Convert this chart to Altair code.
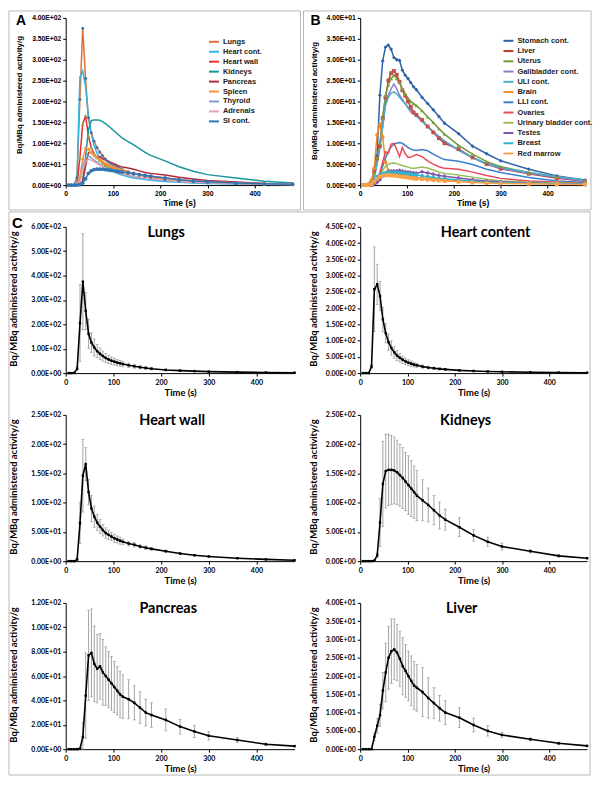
import altair as alt
import pandas as pd

# ---------------- data ----------------
T = [6, 12, 18, 24, 30, 36, 42, 48, 54, 60, 66, 72, 78, 84, 90, 96, 102, 108, 114, 120,
     132, 144, 156, 168, 180, 210, 240, 270, 300, 360, 420, 480]
X_TICKS = [0, 100, 200, 300, 400]
Y_TITLE = "Bq/MBq administered activity/g"

lungs = [0, 0, 1, 18, 205, 375, 255, 161, 125, 105, 90, 79, 70, 62, 56, 51, 47, 43, 40, 37,
         32, 28, 24, 21, 18, 13, 10, 8, 6, 4, 2.5, 1.5]
lungs_sd = [0, 0, 0, 8, 158, 197, 76, 60, 40, 35, 27, 24, 21, 19, 17, 15, 14, 13, 12, 11,
            9, 8, 7, 6, 5, 4, 3, 2, 2, 1, 0.5, 0.3]
heart_cont = [0, 0, 0, 20, 258, 273, 237, 165, 123, 95, 77, 64, 54, 47, 41, 36, 32, 29, 26, 24,
              20, 17, 15, 13, 11.5, 8.5, 6.5, 5, 4, 2.6, 1.7, 1.1]
heart_cont_sd = [0, 0, 0, 5, 130, 62, 45, 38, 30, 25, 22, 18, 15, 13, 11, 10, 9, 8, 7, 6,
                 5, 4, 3.5, 3, 2.5, 2, 1.5, 1, 1, 0.5, 0.3, 0.2]
heart_wall = [0, 0, 0, 3, 65, 146, 166, 118, 90, 76, 66, 59, 53, 48, 45, 42, 39, 37, 35, 33,
              30, 28, 25, 23, 21, 17, 13, 10, 8, 5, 3, 1.5]
heart_wall_sd = [0, 0, 0, 2, 35, 62, 28, 22, 22, 18, 14, 12, 10, 9, 8, 7, 7, 6, 6, 5,
                 4, 4, 3, 3, 2.5, 2, 1.5, 1, 1, 0.5, 0.3, 0.2]
kidneys = [0, 0, 0, 0, 1, 10, 66, 132, 154, 156, 156, 155, 152, 147, 142, 136, 130, 124, 118, 112,
           104, 96, 87, 78, 71, 58, 44, 33, 25, 17, 9, 5]
kidneys_sd = [0, 0, 0, 0, 0.5, 4, 41, 73, 63, 61, 59, 57, 55, 53, 52, 50, 50, 48, 45, 43,
              35, 29, 25, 23, 18, 16, 10, 8, 6, 3, 2, 1]
pancreas = [0, 0, 0, 0, 0.5, 10, 44, 77, 79, 70, 66, 68, 63, 60, 57, 54, 51, 48, 45, 43,
            41, 38, 34, 30, 28, 24, 18.5, 14.5, 11, 7.5, 4, 2.5]
pancreas_sd = [0, 0, 0, 0, 0.3, 12, 35, 37, 36, 31, 28, 27, 27, 24, 23, 22, 21, 20, 19, 18,
               16, 14, 13, 11, 10, 9, 6, 5, 3.5, 2, 1, 0.5]
liver = [0, 0, 0, 0, 3.4, 6.4, 9.3, 16, 21, 25, 26.8, 27.3, 26.4, 24.7, 22.7, 21.4, 20, 18.7, 17.4, 16.8,
         15.6, 14, 12.6, 11.2, 10, 8.6, 6.6, 5, 3.9, 2.7, 1.6, 0.9]
liver_sd = [0, 0, 0, 0, 1, 2, 3, 5, 8, 8.6, 8.8, 8.3, 7.7, 7.6, 7.8, 7.2, 6.8, 6.8, 6.6, 6.4,
            6.7, 5.5, 4.2, 3.5, 3.3, 2.7, 1.9, 1.4, 0.7, 0.4, 0.3, 0.2]

spleen = [0, 0, 0, 2, 20, 62, 88, 85, 78, 72, 66, 61, 56, 52, 48, 45, 42, 39, 37, 35,
          31, 28, 25, 22, 20, 16, 13, 10, 8, 5, 3.5, 2.5]
thyroid = [0, 0, 0, 1, 10, 45, 65, 70, 66, 60, 55, 50, 46, 42, 38, 35, 32, 30, 28, 26,
           23, 20, 18, 16, 14, 11, 8, 6, 5, 3, 2, 1.5]
adrenals = [0, 0, 0, 1, 8, 35, 55, 62, 60, 56, 52, 48, 44, 41, 38, 35, 33, 31, 29, 27,
            24, 21, 19, 17, 15, 12, 9, 7, 6, 4, 3, 2]
si_cont = [0, 0, 0, 0, 1, 5, 15, 28, 34, 37, 38, 38, 38, 37, 36, 35, 34, 33, 32, 31,
           29, 27, 25, 23, 21, 17, 13, 10, 8, 5, 3, 2]

stomach = [0, 0, 0.3, 1, 3, 7, 21.5, 29.7, 33, 33.5, 32.5, 30.5, 30, 29.8, 27.5, 26.3, 25.5, 24.5, 23.5, 22.8,
           21, 19.5, 18, 16.4, 14.8, 12.3, 9.3, 7.5, 5.8, 3.8, 2.2, 1.2]
uterus = [0, 0, 0, 0.5, 3, 6.5, 10, 16, 21.5, 24, 25.5, 26.3, 25.5, 24.5, 23, 21.8, 20.8, 20, 19.5, 19,
          17.8, 16.3, 15, 13.5, 12.2, 9.5, 7.4, 5.6, 4.4, 3, 2, 1.1]
gallbladder = [0, 0, 0, 0, 2, 5, 9, 14, 19.5, 21.5, 23, 24.2, 23, 21.5, 20.5, 19.5, 18.5, 17.5, 17, 16.5,
               15.3, 14, 12.8, 11.6, 10.5, 8.3, 6.5, 5, 4, 2.8, 1.8, 1]
uli_cont = [0, 0, 0, 0, 2, 5, 9, 14, 19, 21, 22, 22.3, 21.8, 21, 20.2, 19.5, 18.7, 18, 17.2, 16.6,
            15.3, 14, 12.8, 11.6, 10.5, 8.4, 6.6, 5.2, 4.2, 3, 2, 1.2]
brain = [0, 0, 0.3, 1.2, 4, 12, 14.5, 11.5, 5.5, 3.5, 3, 2.8, 2.6, 2.4, 2.3, 2.2, 2.1, 2, 1.9, 1.8,
         1.7, 1.6, 1.5, 1.4, 1.3, 1.1, 1, 0.8, 0.7, 0.6, 0.5, 0.4]
lli_cont = [0, 0, 0, 0, 0.3, 1, 2.5, 4.5, 6.5, 8, 9.2, 9.8, 10, 10.2, 10, 9.5, 9, 8.6, 8.4, 8.3,
            8.5, 8.2, 7.4, 6.7, 6.1, 5.7, 4.9, 3.8, 3.0, 1.8, 1, 0.6]
ovaries = [0, 0, 0, 0, 0.2, 1, 3, 5.5, 8, 7.6, 9.8, 10, 8.5, 6.8, 9, 7.5, 6.6, 6.7, 7, 7.3,
           6.8, 5.8, 5, 4.4, 4, 3.8, 3.1, 2.3, 1.6, 1, 0.7, 0.4]
urinary = [0, 0, 0, 0, 0.2, 0.8, 2, 3.5, 4.5, 5, 5.2, 5.3, 5.1, 4.9, 4.7, 4.5, 4.3, 4.1, 4, 4.1,
           4.3, 4.1, 3.6, 3.1, 2.8, 2.4, 1.9, 1.4, 1, 0.7, 0.5, 0.3]
testes = [0, 0, 0, 0, 0.2, 0.6, 1.3, 2.2, 2.8, 3.1, 3.3, 3.4, 3.4, 3.5, 3.3, 3.2, 3.1, 3, 2.9, 2.8,
          3.2, 2.9, 2.6, 2.3, 2.1, 1.7, 1.3, 1, 0.8, 0.5, 0.3, 0.2]
breast = [0, 0, 0, 0.3, 1, 2, 2.5, 2.8, 2.9, 3, 3, 3, 3, 2.9, 2.9, 2.8, 2.7, 2.6, 2.5, 2.4,
          2.2, 2, 1.8, 1.6, 1.5, 1.2, 0.9, 0.7, 0.6, 0.4, 0.3, 0.2]
red_marrow = [0, 0, 0, 0.2, 0.8, 1.5, 2, 2.2, 2.3, 2.4, 2.3, 2.3, 2.2, 2.1, 2, 1.9, 1.8, 1.7, 1.6, 1.5,
              1.4, 1.3, 1.2, 1.1, 1, 0.8, 0.6, 0.5, 0.4, 0.3, 0.2, 0.15]

A_names = ["Lungs", "Heart cont.", "Heart wall", "Kidneys", "Pancreas", "Spleen", "Thyroid",
           "Adrenals", "SI cont."]
A_series = [lungs, heart_cont, heart_wall, kidneys, pancreas, spleen, thyroid, adrenals, si_cont]
A_colors = ["#E0703A", "#2FB5E6", "#E3302A", "#16969C", "#B02A3C", "#F7963F", "#7F9FCB",
            "#E8A3B0", "#2F75B5"]
A_mk_names = ["Lungs", "Heart wall", "Spleen", "SI cont."]
A_mk_colors = ["#4F6FA8", "#8DB04A", "#F7963F", "#2F75B5"]
A_mk_shapes = ["diamond", "triangle-up", "diamond", "circle"]

B_names = ["Stomach cont.", "Liver", "Uterus", "Gallbladder cont.", "ULI cont.", "Brain",
           "LLI cont.", "Ovaries", "Urinary bladder cont.", "Testes", "Breast", "Red marrow"]
B_series = [stomach, liver, uterus, gallbladder, uli_cont, brain, lli_cont, ovaries, urinary,
            testes, breast, red_marrow]
B_colors = ["#2E62A8", "#C0392B", "#6E9A3A", "#8E7CC3", "#4BACC6", "#F08C2E", "#3A7FD0",
            "#E84A5A", "#9BBB59", "#7E57A8", "#2FB5D0", "#F9A14A"]
B_mk_names = ["Stomach cont.", "Liver", "Uterus", "Brain", "Testes", "Breast", "Red marrow"]
B_mk_colors = ["#2E62A8", "#C0504D", "#77A33A", "#F08C2E", "#7E57A8", "#2FB5D0", "#F9A14A"]
B_mk_shapes = ["diamond", "square", "triangle-up", "circle", "cross", "circle", "square"]

C_titles = ["Lungs", "Heart content", "Heart wall", "Kidneys", "Pancreas", "Liver"]
letters = ["A", "B", "C"]

AB_FONT = "Liberation Sans"
C_FONT = "Lato"
E = "floor(log(datum.value)/LN10 + 1e-9)"
SCI = (f"datum.value == 0 ? '0.00E+00' : format(datum.value / pow(10, {E}), '.2f') + 'E' + "
       f"({E} < 0 ? '-' : '+') + (abs({E}) < 10 ? '0' : '') + abs({E})")


def axis_x(font, lsize, tsize, ty):
    return alt.Axis(values=X_TICKS, title="Time (s)", titleFont=font, titleFontSize=tsize,
                    titleFontWeight="bold", titleColor="black", titleY=ty, titleBaseline="middle",
                    labelFont=font, labelFontSize=lsize, labelFontWeight="bold", labelColor="black",
                    labelFlush=False, labelPadding=2, tickSize=3, tickColor="black",
                    domainColor="black", grid=False)


def axis_y(ticks, font, lsize, tsize, tx, ty):
    return alt.Axis(values=ticks, labelExpr=SCI, title=Y_TITLE, titleFont=font, titleFontSize=tsize,
                    titleFontWeight="bold", titleColor="black", titleX=tx, titleY=ty,
                    titleAngle=270, titleAlign="center", titleBaseline="middle",
                    labelFont=font, labelFontSize=lsize, labelFontWeight="bold", labelColor="black",
                    labelPadding=2, tickSize=3, tickColor="black", domainColor="black",
                    grid=False, labelOverlap=False, labelFlush=False)


def frame_layer(x1, x2, y1, y2):
    return alt.Chart(pd.DataFrame({"k": [0]})).mark_rect(
        filled=False, stroke="#b8b8b8", strokeWidth=1).encode(
        x=alt.value(x1), x2=alt.value(x2), y=alt.value(y1), y2=alt.value(y2))


def letter_layer(letter, lx, ly):
    return alt.Chart(pd.DataFrame({"t": [letter]})).mark_text(
        font=AB_FONT, fontSize=14, fontWeight="bold", align="left", baseline="alphabetic",
        color="black").encode(text="t:N", x=alt.value(lx), y=alt.value(ly))


def multi_panel(names, arrays, colors, mk_names, mk_colors, mk_shapes, ymax, ystep, width,
                height, leg_x, leg_y, leg_size, leg_pad, title_y, letter, frame):
    rows = []
    for n, arr in zip(names, arrays):
        for t, v in zip(T, arr):
            rows.append({"name": n, "time": t, "value": v})
    df = pd.DataFrame(rows)
    ticks = [i * ystep for i in range(int(round(ymax / ystep)) + 1)]
    x = alt.X("time:Q", scale=alt.Scale(domain=[0, 480], nice=False),
              axis=axis_x(AB_FONT, 6.8, 8.5, 17.7))
    y = alt.Y("value:Q", scale=alt.Scale(domain=[0, ymax], nice=False),
              axis=axis_y(ticks, AB_FONT, 6.8, 8, -46, title_y))
    lines = alt.Chart(df).mark_line(strokeWidth=1.5).encode(
        x=x, y=y,
        stroke=alt.Stroke("name:N", scale=alt.Scale(domain=names, range=colors),
                          legend=alt.Legend(orient="none", legendX=leg_x, legendY=leg_y,
                                            title=None, symbolType="stroke", symbolSize=100,
                                            symbolStrokeWidth=2, labelFont=AB_FONT,
                                            labelFontSize=leg_size, labelFontWeight="bold",
                                            labelColor="#222222", rowPadding=leg_pad,
                                            labelOffset=3, padding=0, labelLimit=200)))
    mdf = df[df["name"].isin(mk_names)]
    pts = alt.Chart(mdf).mark_point(filled=True, size=15, opacity=1).encode(
        x=x, y=y,
        fill=alt.Fill("name:N", scale=alt.Scale(domain=mk_names, range=mk_colors), legend=None),
        shape=alt.Shape("name:N", scale=alt.Scale(domain=mk_names, range=mk_shapes), legend=None))
    return alt.layer(frame_layer(*frame), lines, pts, letter_layer(letter, -50, 6.7)).properties(
        width=width, height=height)


def c_panel(idx, mean, sd, ymax, ystep, width, height, tx, title_x, extra=None):
    df = pd.DataFrame({"time": T, "mean": mean, "sd": sd})
    df["lo"] = (df["mean"] - df["sd"]).clip(lower=0)
    df["hi"] = df["mean"] + df["sd"]
    edf = df[df["sd"] > 0]
    ticks = [i * ystep for i in range(int(round(ymax / ystep)) + 1)]
    sc = alt.Scale(domain=[0, ymax], nice=False)
    ax = axis_y(ticks, C_FONT, 7, 9.5, tx, 72)
    x = alt.X("time:Q", scale=alt.Scale(domain=[0, 480], nice=False),
              axis=axis_x(C_FONT, 7, 9.5, 19.5))
    err = alt.Chart(edf).mark_rule(color="#8c8c8c", strokeWidth=0.8).encode(
        x=x, y=alt.Y("lo:Q", scale=sc, axis=ax), y2="hi:Q")
    cap_lo = alt.Chart(edf).mark_tick(orient="horizontal", size=3, thickness=0.8,
                                      color="#8c8c8c").encode(x=x, y=alt.Y("lo:Q", scale=sc, axis=ax))
    cap_hi = alt.Chart(edf).mark_tick(orient="horizontal", size=3, thickness=0.8,
                                      color="#8c8c8c").encode(x=x, y=alt.Y("hi:Q", scale=sc, axis=ax))
    line = alt.Chart(df).mark_line(color="black", strokeWidth=1.6).encode(
        x=x, y=alt.Y("mean:Q", scale=sc, axis=ax))
    pts = alt.Chart(df).mark_point(shape="square", filled=True, size=6, color="black",
                                   opacity=1).encode(x=x, y=alt.Y("mean:Q", scale=sc, axis=ax))
    title = alt.Chart(pd.DataFrame({"t": [C_titles[idx]]})).mark_text(
        font=C_FONT, fontSize=14.5, fontWeight="bold", align="center", baseline="alphabetic",
        color="black").encode(text="t:N", x=alt.value(title_x), y=alt.value(10))
    layers = [err, cap_lo, cap_hi, line, pts, title]
    if extra is not None:
        layers = extra + layers
    return alt.layer(*layers).properties(width=width, height=height)


panel_a = multi_panel(A_names, A_series, A_colors, A_mk_names, A_mk_colors, A_mk_shapes,
                      400, 50, 228, 168, 143, 18, 7.5, 0, 77, letters[0], (-57, 236, -7, 193))
panel_b = multi_panel(B_names, B_series, B_colors, B_mk_names, B_mk_colors, B_mk_shapes,
                      40, 5, 226, 168, 143, 17, 7.5, 0.3, 83, letters[1], (-57, 232, -7, 193))

c_extra = [frame_layer(-57, 527, -15, 551),
           alt.Chart(pd.DataFrame({"t": [letters[2]]})).mark_text(
               font=AB_FONT, fontSize=15, fontWeight="bold", align="left", baseline="alphabetic",
               color="black").encode(text="t:N", x=alt.value(-54), y=alt.value(1))]

p_lungs = c_panel(0, lungs, lungs_sd, 600, 100, 230, 147, -52, 101, extra=c_extra)
p_hc = c_panel(1, heart_cont, heart_cont_sd, 450, 50, 228, 147, -47, 126)
p_hw = c_panel(2, heart_wall, heart_wall_sd, 250, 50, 230, 147, -52, 107)
p_kid = c_panel(3, kidneys, kidneys_sd, 250, 50, 228, 147, -47, 106)
p_pan = c_panel(4, pancreas, pancreas_sd, 120, 20, 230, 147, -52, 103)
p_liv = c_panel(5, liver, liver_sd, 40, 5, 228, 147, -47, 102)

chart = alt.concat(panel_a, panel_b, p_lungs, p_hc, p_hw, p_kid, p_pan, p_liv,
                   columns=2, spacing={"row": 42, "column": 66}, bounds="flush").resolve_scale(
    stroke="independent", fill="independent", shape="independent").resolve_legend(
    stroke="independent").properties(
    padding=0, background="white").configure_view(strokeWidth=0)

chart.save("out.html", embed_options={"renderer": "svg", "actions": False})
